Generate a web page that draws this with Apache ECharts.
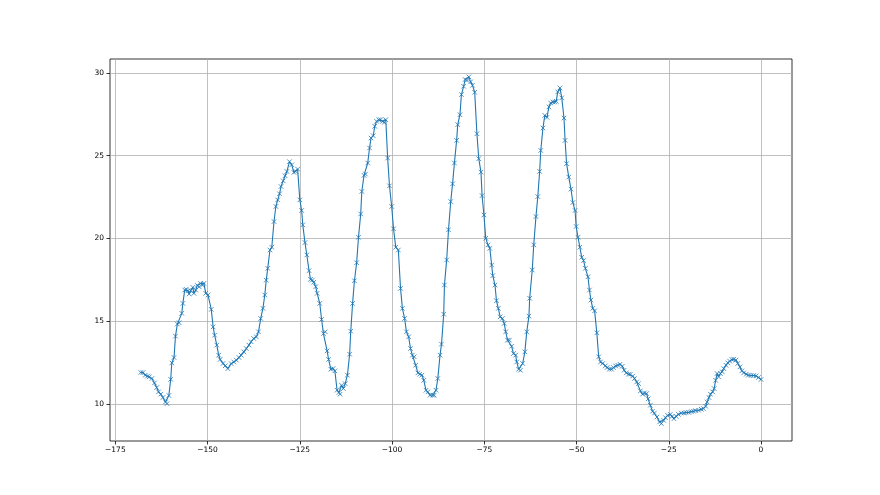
<!DOCTYPE html>
<html>
<head>
<meta charset="utf-8">
<script src="https://cdn.jsdelivr.net/npm/echarts@6/dist/echarts.min.js"></script>
<style>
html,body{margin:0;padding:0;background:#fff;}
#chart{width:880px;height:495px;}
</style>
</head>
<body>
<div id="chart"></div>
<script>
// Data
const xValues = [
-168.1,-167.5,-166.9,-166.3,-165.8,-165.1,-164.4,-163.8,-163.3,-162.7,-162.1,-161.4,-161.0,-160.5,-160.0,-159.7,-159.1,-158.7,-158.2,-157.7,
-157.0,-156.7,-156.2,-155.8,-155.3,-155.0,-154.6,-154.0,-153.7,-153.2,-152.8,-152.3,-151.9,-151.4,-151.0,-150.5,-149.9,-149.0,-148.5,-148.1,
-147.5,-147.0,-146.6,-145.8,-145.2,-144.5,-143.6,-142.9,-142.2,-141.5,-140.9,-140.2,-139.5,-138.8,-138.2,-137.5,-136.8,-136.2,-135.6,-135.0,
-134.5,-134.1,-133.7,-133.1,-132.6,-132.0,-131.5,-131.0,-130.5,-130.1,-129.5,-129.0,-128.5,-127.8,-127.2,-126.6,-126.1,-125.6,-125.0,-124.5,
-124.2,-123.6,-123.1,-122.5,-122.1,-121.6,-121.2,-120.7,-120.3,-119.6,-119.1,-118.6,-118.1,-117.6,-117.2,-116.6,-116.0,-115.5,-114.9,-114.4,
-114.1,-113.7,-113.2,-112.7,-112.1,-111.5,-111.2,-110.7,-110.2,-109.6,-109.1,-108.5,-108.2,-107.6,-107.2,-106.6,-106.1,-105.7,-105.1,-104.7,
-104.2,-103.6,-103.1,-102.6,-102.1,-101.7,-101.2,-100.7,-100.1,-99.6,-99.0,-98.3,-97.7,-97.2,-96.6,-96.1,-95.5,-95.0,-94.5,-94.0,
-93.6,-93.0,-92.5,-91.9,-91.4,-90.8,-90.3,-89.7,-89.0,-88.6,-88.1,-87.6,-87.0,-86.6,-86.0,-85.8,-85.2,-84.7,-84.1,-83.6,
-83.1,-82.5,-82.2,-81.6,-81.2,-80.6,-80.2,-79.7,-79.2,-78.7,-78.2,-77.6,-77.0,-76.5,-75.9,-75.6,-75.1,-74.6,-74.0,-73.5,
-73.0,-72.7,-72.1,-71.7,-71.2,-70.7,-70.1,-69.6,-69.2,-68.7,-68.2,-67.6,-67.1,-66.5,-66.2,-65.7,-65.2,-64.6,-64.0,-63.5,
-62.9,-62.7,-62.0,-61.6,-61.0,-60.5,-60.0,-59.7,-59.1,-58.6,-58.0,-57.5,-57.0,-56.4,-55.9,-55.5,-55.1,-54.5,-54.0,-53.4,
-53.1,-52.7,-52.1,-51.5,-51.0,-50.4,-50.1,-49.6,-49.1,-48.6,-48.1,-47.6,-46.9,-46.5,-46.1,-45.6,-45.1,-44.5,-44.0,-43.5,
-42.9,-42.2,-41.7,-41.1,-40.5,-40.0,-39.4,-38.8,-38.2,-37.6,-37.1,-36.5,-35.9,-35.4,-34.8,-34.3,-33.7,-33.2,-32.7,-32.1,
-31.6,-31.0,-30.6,-30.0,-29.4,-28.9,-28.2,-27.5,-27.0,-26.4,-25.9,-25.3,-24.6,-24.1,-23.6,-23.0,-22.4,-21.6,-20.9,-20.3,
-19.6,-18.9,-18.3,-17.7,-16.9,-16.2,-15.6,-15.0,-14.6,-14.1,-13.7,-13.1,-12.7,-12.3,-11.9,-11.5,-11.0,-10.5,-10.1,-9.5,
-9.0,-8.5,-7.9,-7.4,-6.8,-6.3,-5.7,-5.2,-4.7,-4.0,-3.4,-2.7,-2.0,-1.3,-0.7,0.0
];
const yValues = [
11.89,11.89,11.73,11.67,11.63,11.53,11.26,10.98,10.72,10.58,10.38,10.11,10.01,10.50,11.48,12.47,12.80,14.09,14.82,14.90,
15.47,16.07,16.88,16.92,16.84,16.64,16.84,17.04,16.68,16.88,17.16,17.08,17.28,17.18,17.28,16.68,16.58,15.71,14.65,14.15,
13.55,12.94,12.68,12.44,12.30,12.13,12.43,12.53,12.64,12.80,12.94,13.14,13.34,13.55,13.75,13.95,14.05,14.35,15.16,15.77,
16.58,17.48,18.19,19.30,19.47,21.02,21.93,22.33,22.70,23.14,23.48,23.79,24.05,24.64,24.45,23.99,24.05,24.19,22.33,21.69,
20.82,19.75,19.00,18.05,17.53,17.48,17.35,17.08,16.68,16.07,15.10,14.25,14.35,13.20,12.68,12.09,12.13,11.99,10.82,10.68,
10.58,11.12,10.92,11.22,11.73,13.00,14.39,16.07,17.44,18.53,20.07,21.48,22.84,23.81,23.89,24.56,25.47,26.07,26.21,26.78,
27.08,27.18,27.18,27.08,27.02,27.18,24.86,23.18,21.93,20.58,19.47,19.30,16.98,15.77,15.16,14.35,14.05,13.34,12.94,12.84,
12.33,11.87,11.79,11.73,11.42,10.82,10.72,10.52,10.52,10.52,10.82,11.53,12.94,13.61,15.42,17.18,18.70,20.52,22.23,23.30,
24.56,25.93,26.88,27.48,28.70,29.20,29.61,29.56,29.77,29.47,29.26,28.84,26.33,24.82,24.01,22.59,21.42,20.01,19.61,19.40,
18.39,17.75,17.18,16.23,15.77,15.26,15.16,14.86,14.35,13.85,13.85,13.48,13.04,12.94,12.53,12.09,12.03,12.44,13.14,14.35,
15.30,16.38,18.09,19.61,21.32,22.53,24.05,25.32,26.68,27.44,27.32,27.95,28.19,28.25,28.25,28.29,28.86,29.10,28.50,27.28,
25.93,24.52,23.71,22.98,22.17,21.69,20.72,20.07,19.47,18.86,18.66,18.19,17.68,16.88,16.27,15.77,15.62,14.29,12.84,12.53,
12.44,12.29,12.19,12.09,12.09,12.19,12.29,12.33,12.39,12.27,12.03,11.87,11.79,11.79,11.67,11.53,11.32,11.22,10.78,10.58,
10.66,10.62,10.30,9.91,9.55,9.44,9.20,8.90,8.80,9.00,9.16,9.30,9.36,9.24,9.10,9.24,9.36,9.44,9.44,9.47,
9.48,9.53,9.55,9.59,9.61,9.67,9.71,9.85,10.11,10.38,10.58,10.72,10.92,11.42,11.83,11.63,11.83,11.93,12.13,12.33,
12.47,12.58,12.68,12.70,12.64,12.44,12.23,11.99,11.87,11.79,11.73,11.71,11.71,11.69,11.59,11.47
];
const xTicks = [-175, -150, -125, -100, -75, -50, -25, 0];
const yTicks = [10, 15, 20, 25, 30];

const points = xValues.map((x, i) => [x, yValues[i]]);
const fmt = v => String(v).replace('-', '\u2212');
const labelStyle = {color: '#000', fontSize: 7.5, fontFamily: 'DejaVu Sans'};
const gridLine = {show: true, lineStyle: {color: '#b0b0b0', width: 0.8}};

const chart = echarts.init(document.getElementById('chart'), null, {renderer: 'canvas'});
chart.setOption({
  animation: false,
  backgroundColor: '#fff',
  grid: {left: 110, right: 88, top: 59, bottom: 54, show: true, borderColor: '#000', borderWidth: 0.8, backgroundColor: 'transparent'},
  xAxis: {
    type: 'value', min: -176.45, max: 8.4,
    axisLine: {show: false, onZero: false},
    axisTick: {show: true, length: 3.5, customValues: xTicks, lineStyle: {color: '#000', width: 0.8}},
    axisLabel: Object.assign({customValues: xTicks, margin: 5.5, formatter: fmt}, labelStyle),
    splitLine: gridLine
  },
  yAxis: {
    type: 'value', min: 7.75, max: 30.85,
    axisLine: {show: false, onZero: false},
    axisTick: {show: true, length: 3.5, customValues: yTicks, lineStyle: {color: '#000', width: 0.8}},
    axisLabel: Object.assign({customValues: yTicks, margin: 6, formatter: fmt}, labelStyle),
    splitLine: gridLine
  },
  series: [{
    type: 'line',
    data: points,
    showAllSymbol: true,
    symbol: 'path://M0,0L10,10M10,0L0,10',
    symbolSize: 4.5,
    lineStyle: {color: '#1f77b4', width: 1.1},
    itemStyle: {color: 'rgba(0,0,0,0)', borderColor: '#1f77b4', borderWidth: 0.8},
    emphasis: {disabled: true}
  }]
});
</script>
</body>
</html>
